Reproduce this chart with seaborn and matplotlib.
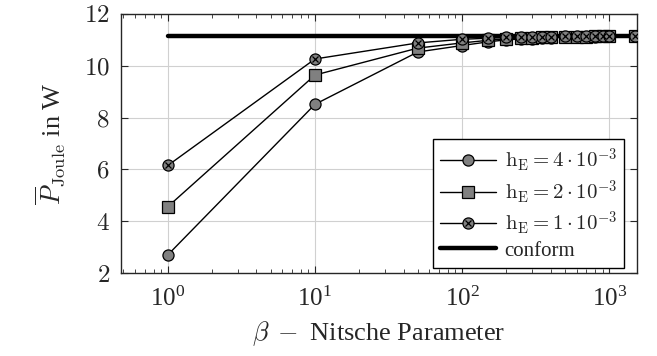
import numpy as np
import pandas as pd
import matplotlib
matplotlib.use("Agg")
import matplotlib.pyplot as plt
import seaborn as sns
from matplotlib.lines import Line2D

# Nitsche parameter values
beta = [1, 10, 50, 100, 150, 200, 250, 300, 350, 400, 500, 600, 700, 800, 900, 1000, 1500]

# mean Joule losses in W for each mesh size
p_h4 = [2.70, 8.51, 10.53, 10.78, 10.92, 11.00, 11.03, 11.05, 11.07, 11.08, 11.10, 11.11, 11.12, 11.12, 11.13, 11.13, 11.14]
p_h2 = [4.56, 9.64, 10.68, 10.88, 10.98, 11.04, 11.06, 11.08, 11.09, 11.10, 11.11, 11.12, 11.12, 11.13, 11.13, 11.13, 11.14]
p_h1 = [6.15, 10.26, 10.88, 11.02, 11.06, 11.09, 11.10, 11.11, 11.12, 11.12, 11.13, 11.13, 11.13, 11.14, 11.14, 11.14, 11.15]

# conforming reference
beta_conf = [1, 1500]
p_conf = [11.16, 11.16]

labels = [r"$\mathrm{h_E} = 4\cdot10^{-3}$", r"$\mathrm{h_E} = 2\cdot10^{-3}$",
          r"$\mathrm{h_E} = 1\cdot10^{-3}$", "conform"]
yticks = [2, 4, 6, 8, 10, 12]

sns.set_style("ticks")
plt.rcParams["font.family"] = ["Liberation Serif", "DejaVu Serif"]
plt.rcParams["mathtext.fontset"] = "cm"

fig = plt.figure(figsize=(6.57, 3.56), dpi=100)
ax = fig.add_axes([0.184, 0.233, 0.786, 0.728])
ax.set_xscale("log")

df = pd.DataFrame({"beta": beta, "h4": p_h4, "h2": p_h2, "h1": p_h1})
grey = "#808080"
mk = dict(color="black", lw=1.0, markerfacecolor=grey, markeredgecolor="black",
          markeredgewidth=0.9, markersize=8)

sns.lineplot(data=df, x="beta", y="h4", marker="o", ax=ax, zorder=3, **mk)
sns.lineplot(data=df, x="beta", y="h2", marker="s", ax=ax, zorder=4, **mk)
sns.lineplot(data=df, x="beta", y="h1", marker="o", ax=ax, zorder=5, **mk)
ax.plot(df["beta"], df["h1"], ls="none", marker="x", color="black", markersize=5,
        markeredgewidth=0.9, zorder=6)
sns.lineplot(x=beta_conf, y=p_conf, color="black", lw=3.2, ax=ax, zorder=2)

ax.set_xlim(0.48, 1550)
ax.set_ylim(2, 12)
ax.set_yticks(yticks)
ax.set_yticklabels([f"${v}$" for v in yticks])
ax.grid(True, which="major", color="#d0d0d0", lw=0.8)
ax.tick_params(which="both", direction="in", top=True, right=True, labelsize=18)
ax.tick_params(which="major", length=5)
ax.tick_params(axis="x", which="major", pad=10)
ax.tick_params(axis="y", which="major", pad=8)
ax.tick_params(which="minor", length=3)
ax.tick_params(axis="y", which="minor", left=False, right=False)
for s in ax.spines.values():
    s.set_linewidth(1.0)

ax.set_xlabel(r"$\beta\;-$ Nitsche Parameter", fontsize=19, labelpad=6)
ax.set_ylabel(r"$\overline{P}_{\mathrm{Joule}}$ in W", fontsize=19, labelpad=12)

h_circ = Line2D([], [], **{**mk, "marker": "o"})
h_sq = Line2D([], [], **{**mk, "marker": "s"})
h_x1 = Line2D([], [], **{**mk, "marker": "o"})
h_x2 = Line2D([], [], ls="none", marker="x", color="black", markersize=5, markeredgewidth=0.9)
h_conf = Line2D([], [], color="black", lw=3.2)
leg = ax.legend([h_circ, h_sq, (h_x1, h_x2), h_conf], labels, loc="lower right",
                bbox_to_anchor=(0.975, 0.02), borderaxespad=0, fontsize=15,
                fancybox=False, edgecolor="black", framealpha=1, handlelength=2.7,
                handletextpad=0.4, labelspacing=0.18, borderpad=0.35)
leg.get_frame().set_linewidth(1.0)
leg.set_zorder(10)

fig.savefig("out.png", dpi=100)
